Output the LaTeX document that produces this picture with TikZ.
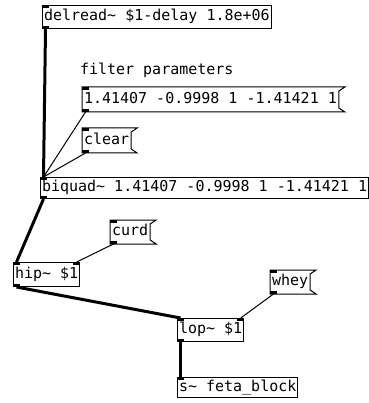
\documentclass[tikz,border=0pt]{standalone}
\usepackage{fontspec}
\setmonofont{DejaVu Sans Mono}

% little black port tabs on the boxes
\newcommand{\inlet}[1]{\fill (#1.north west) rectangle ++(7,3);}
\newcommand{\inletR}[1]{\fill (#1.north east) rectangle ++(-7,3);}
\newcommand{\outlet}[1]{\fill (#1.south west) rectangle ++(7,-3);}
% message box outline with the flag on the right
\newcommand{\msgflag}[1]{\draw[line width=1pt] (#1.north west) -- ([xshift=6pt]#1.north east) -- ([yshift=-4pt]#1.north east) -- ([yshift=4pt]#1.south east) -- ([xshift=6pt]#1.south east) -- (#1.south west) -- cycle;}

\tikzset{
  pdbox/.style={draw, line width=1pt, anchor=north west, inner xsep=1.5pt, inner ysep=0pt,
    minimum height=23pt, text height=11pt, text depth=3.5pt,
    font=\ttfamily\fontsize{15}{18}\selectfont},
  pdmsg/.style={pdbox, draw=none},
  pdtext/.style={pdbox, draw=none},
  sig/.style={line width=3pt},
  ctl/.style={line width=1pt},
}

\begin{document}
\begin{tikzpicture}[x=1pt,y=-1pt]
\useasboundingbox (0,0) rectangle (368,403);

% Objects
\node[pdbox] (delread) at (42,5) {delread\textasciitilde{} \$1-delay 1.8e+06};
\node[pdtext] (comment) at (78,59) {filter parameters};
\node[pdmsg, minimum height=24pt] (coefs) at (82,87) {1.41407 -0.9998 1 -1.41421 1};
\node[pdmsg, minimum height=24pt] (clear) at (82,128) {clear};
\node[pdbox, minimum height=21pt] (biquad) at (40,177) {biquad\textasciitilde{} 1.41407 -0.9998 1 -1.41421 1};
\node[pdmsg] (curd) at (110,220) {curd};
\node[pdbox, minimum height=24pt] (hip) at (13,262) {hip\textasciitilde{} \$1};
\node[pdmsg] (whey) at (270,270) {whey};
\node[pdbox] (lop) at (177,318) {lop\textasciitilde{} \$1};
\node[pdbox, minimum height=20pt] (feta) at (177,377) {s\textasciitilde{} feta\_block};

\msgflag{coefs}
\msgflag{clear}
\msgflag{curd}
\msgflag{whey}

% Ports
\foreach \b in {delread,coefs,clear,biquad,curd,hip,whey,lop,feta} {\inlet{\b}}
\foreach \b in {delread,coefs,clear,biquad,curd,hip,whey,lop} {\outlet{\b}}
\inletR{hip}
\inletR{lop}

% Connections
\draw[sig] ([xshift=3.5pt]delread.south west) -- ([xshift=3.5pt]biquad.north west);
\draw[ctl] ([xshift=3.5pt]coefs.south west) -- ([xshift=3.5pt]biquad.north west);
\draw[ctl] ([xshift=3.5pt]clear.south west) -- ([xshift=3.5pt]biquad.north west);
\draw[sig] ([xshift=3.5pt]biquad.south west) -- ([xshift=3.5pt]hip.north west);
\draw[ctl] ([xshift=3.5pt]curd.south west) -- ([xshift=-3.5pt]hip.north east);
\draw[sig] ([xshift=3.5pt]hip.south west) -- ([xshift=3.5pt]lop.north west);
\draw[ctl] ([xshift=3.5pt]whey.south west) -- ([xshift=-3.5pt]lop.north east);
\draw[sig] ([xshift=3.5pt]lop.south west) -- ([xshift=3.5pt]feta.north west);

\end{tikzpicture}
\end{document}
